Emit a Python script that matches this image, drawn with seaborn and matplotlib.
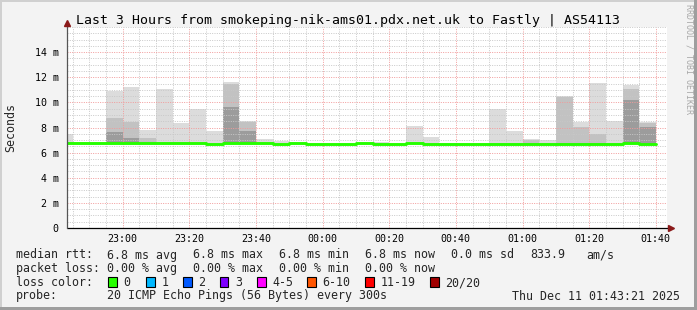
import numpy as np
import pandas as pd
import matplotlib
matplotlib.use("Agg")
import matplotlib.pyplot as plt
import seaborn as sns
from matplotlib.patches import Rectangle
from matplotlib.ticker import MultipleLocator, FixedLocator

# ---------------- data ----------------
title = "Last 3 Hours from smokeping-nik-ams01.pdx.net.uk to Fastly | AS54113"
start_time = "22:43:21"
end_time = "01:43:21"
slot_end = ["22:45", "22:50", "22:55", "23:00", "23:05", "23:10", "23:15", "23:20",
            "23:25", "23:30", "23:35", "23:40", "23:45", "23:50", "23:55", "00:00",
            "00:05", "00:10", "00:15", "00:20", "00:25", "00:30", "00:35", "00:40",
            "00:45", "00:50", "00:55", "01:00", "01:05", "01:10", "01:15", "01:20",
            "01:25", "01:30", "01:35", "01:40"]
median_ms = [6.8, 6.8, 6.8, 6.8, 6.8, 6.8, 6.8, 6.8, 6.8, 6.7, 6.8, 6.8, 6.8, 6.7, 6.8, 6.7,
             6.7, 6.7, 6.8, 6.7, 6.7, 6.8, 6.7, 6.7, 6.7, 6.7, 6.7, 6.7, 6.7, 6.7, 6.7, 6.7,
             6.7, 6.7, 6.8, 6.7]
nan = float("nan")
smoke_max = [7.48, nan, nan, 10.92, 11.24, 7.80, 11.06, 8.33, 9.44, 7.72, 11.59, 8.54,
             7.08, 6.95, nan, nan, nan, nan, nan, 6.87, nan, 8.11, 7.27, nan,
             nan, nan, 9.44, 7.72, 7.08, 7.00, 10.50, 8.46, 11.56, 8.54, 11.38, 8.46]
smoke_mid = [nan, nan, nan, 8.75, 8.46, 7.14, nan, nan, nan, nan, 11.43, 8.40,
             nan, nan, nan, nan, nan, nan, nan, nan, nan, nan, nan, nan,
             nan, nan, nan, nan, 7.00, nan, 10.40, 8.06, 7.48, nan, 11.10, 8.33]
smoke_dark = [nan, nan, nan, 7.66, 7.14, nan, nan, nan, nan, nan, 9.60, 7.74,
              nan, nan, nan, nan, nan, nan, nan, nan, nan, nan, nan, nan,
              nan, nan, nan, nan, nan, nan, nan, nan, nan, nan, 10.18, 8.01]
x_tick_labels = ["23:00", "23:20", "23:40", "00:00", "00:20", "00:40", "01:00", "01:20", "01:40"]
y_ticks = [0, 2, 4, 6, 8, 10, 12, 14]
y_tick_labels = ["0", "2 m", "4 m", "6 m", "8 m", "10 m", "12 m", "14 m"]

loss_labels = ["0", "1", "2", "3", "4-5", "6-10", "11-19", "20/20"]
loss_colors = ["#26ff00", "#00b8ff", "#0059ff", "#7e00ff", "#ff00ff", "#ff5500", "#ff0000", "#a10000"]

line1 = ["median rtt:", "6.8 ms avg", "6.8 ms max", "6.8 ms min", "6.8 ms now", "0.0 ms sd", "833.9", "am/s"]
line2 = ["packet loss:", "0.00 % avg", "0.00 % max", "0.00 % min", "0.00 % now"]
probe_text = "20 ICMP Echo Pings (56 Bytes) every 300s"
date_text = "Thu Dec 11 01:43:21 2025"


def to_min(s):
    parts = [int(p) for p in s.split(":")]
    v = parts[0] * 60 + parts[1] + (parts[2] / 60 if len(parts) > 2 else 0)
    if parts[0] < 12:
        v += 1440
    return v - 23 * 60


# ---------------- figure ----------------
sns.set_theme(style="white")
plt.rcParams["font.family"] = ["DejaVu Sans Mono"]
W, H = 697, 310
BG = "#f3f3f3"
fig = plt.figure(figsize=(W / 100, H / 100), dpi=100, facecolor=BG)
ax = fig.add_axes([67 / W, (H - 228) / H, 600 / W, 201 / H])
ax.set_facecolor("white")

ends = np.array([to_min(s) for s in slot_end])
med = np.array(median_ms)
base = med - 0.1
for arr, col in [(smoke_max, "#dcdcdc"), (smoke_mid, "#c2c2c2"), (smoke_dark, "#9c9c9c")]:
    a = np.array(arr)
    ok = ~np.isnan(a)
    ax.bar(ends[ok] - 5, a[ok] - base[ok], bottom=base[ok], width=5, align="edge",
           color=col, linewidth=0, zorder=1)

rows = []
for e, m in zip(ends, med):
    rows.append((e - 5, m))
    rows.append((e, m))
df = pd.DataFrame(rows, columns=["t", "ms"])
sns.lineplot(data=df, x="t", y="ms", sort=False, estimator=None, color="#26ff00",
             linewidth=2.1, ax=ax, zorder=4)

ax.set_xlim(to_min(start_time), to_min(end_time))
ax.set_ylim(0, 16)
ax.xaxis.set_major_locator(FixedLocator([to_min(s) for s in x_tick_labels]))
ax.set_xticklabels(x_tick_labels)
ax.xaxis.set_minor_locator(MultipleLocator(5))
ax.set_yticks(y_ticks)
ax.set_yticklabels(y_tick_labels)
ax.yaxis.set_minor_locator(MultipleLocator(0.5))
ax.set_xlabel("")
ax.set_ylabel("")

ax.set_axisbelow(False)
ax.grid(which="minor", color="#c8c8c8", linestyle=(0, (1, 1.4)), linewidth=0.7)
ax.grid(which="major", color="#f29a9a", linestyle=(0, (1, 1.4)), linewidth=0.7)
ax.tick_params(axis="x", which="major", length=2, width=0.7, color="#f08080",
               pad=2.5, labelsize=7.2, labelcolor="black", direction="out")
ax.tick_params(axis="x", which="minor", length=2, width=0.7, color="#c0c0c0", direction="out")
ax.tick_params(axis="y", which="major", length=3, width=0.7, color="#444444",
               pad=3, labelsize=7.2, labelcolor="black", direction="out")
ax.tick_params(axis="y", which="minor", length=0)
for s in ax.spines.values():
    s.set_visible(False)
ax.plot([0, 1.005], [0, 0], transform=ax.transAxes, color="black", lw=0.9, clip_on=False, zorder=5)
ax.plot([0, 0], [0, 1.015], transform=ax.transAxes, color="#555555", lw=0.9, clip_on=False, zorder=5)
ax.plot([1.006], [0], transform=ax.transAxes, marker=">", markersize=4.2, color="#8b1a1a",
        clip_on=False, zorder=6)
ax.plot([0], [1.02], transform=ax.transAxes, marker="^", markersize=4.2, color="#8b1a1a",
        clip_on=False, zorder=6)


def ftext(x, y, s, **kw):
    fig.text(x / W, 1 - y / H, s, **kw)


ftext(348, 24, title, ha="center", va="baseline", fontsize=9.5, color="black")
ftext(11, 128, "Seconds", ha="center", va="center", rotation=90, fontsize=8.4)
ftext(688.5, 4, "RRDTOOL / TOBI OETIKER", ha="center", va="top", rotation=270,
      fontsize=6, color="#a8a8a8")

l1x = [16, 107, 193, 279, 365, 451, 530, 586]
for x, s in zip(l1x, line1):
    ftext(x, 258.5, s, ha="left", va="baseline", fontsize=8.4)
l2x = [16, 107, 193, 279, 365]
for x, s in zip(l2x, line2):
    ftext(x, 272, s, ha="left", va="baseline", fontsize=8.4)
ftext(16, 286, "loss color:", ha="left", va="baseline", fontsize=8.4)
box_x = [108, 146, 183, 220, 257, 307, 365, 430]
for bx, lab, col in zip(box_x, loss_labels, loss_colors):
    fig.add_artist(Rectangle((bx / W, 1 - 286.5 / H), 8.5 / W, 9.5 / H, transform=fig.transFigure,
                             facecolor=col, edgecolor="black", lw=0.8))
    ftext(bx + 15.5, 286, lab, ha="left", va="baseline", fontsize=8.4)
ftext(16, 299.5, "probe:", ha="left", va="baseline", fontsize=8.4)
ftext(107, 299.5, probe_text, ha="left", va="baseline", fontsize=8.4)
ftext(680, 299.5, date_text, ha="right", va="baseline", fontsize=8.4)

# frame
for (x, y, w, h, c) in [(0, 0, W, 1.5, "#d0d0d0"), (0, 0, 1.5, H, "#d0d0d0"),
                        (W - 3, 0, 3, H, "#9e9e9e"), (0, H - 3, W, 3, "#9e9e9e")]:
    fig.add_artist(Rectangle((x / W, 1 - (y + h) / H), w / W, h / H, transform=fig.transFigure,
                             facecolor=c, edgecolor="none", lw=0))

fig.savefig("out.png", dpi=100, facecolor=BG)
